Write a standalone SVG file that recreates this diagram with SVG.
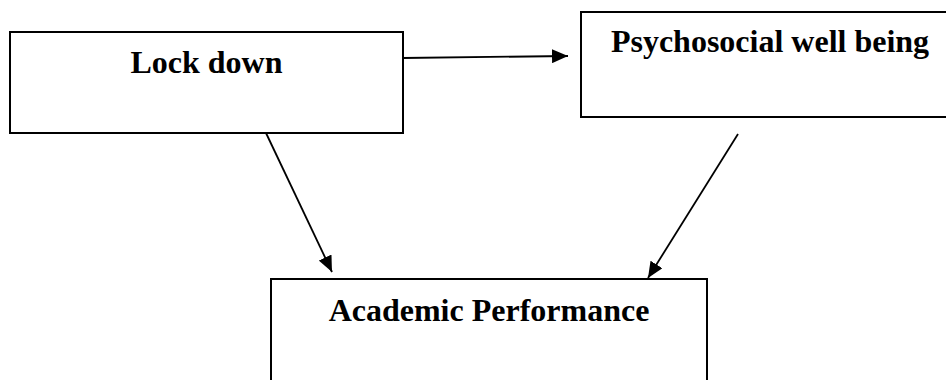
<svg xmlns="http://www.w3.org/2000/svg" width="946" height="380" viewBox="0 0 946 380">
  <style>
    .box { fill: #ffffff; stroke: #000000; stroke-width: 2; }
    .label { font-family: "Liberation Serif", "Times New Roman", serif; font-weight: bold; font-size: 32px; fill: #000000; text-anchor: middle; }
    .conn { stroke: #000000; stroke-width: 1.8; fill: none; marker-end: url(#arrow); }
  </style>
  <defs>
    <marker id="arrow" markerUnits="userSpaceOnUse" markerWidth="16" markerHeight="14" viewBox="0 0 16 14" refX="16" refY="7" orient="auto">
      <path d="M0,0 L16,7 L0,14 z" fill="#000000"/>
    </marker>
  </defs>
  <rect width="946" height="380" fill="#ffffff"/>
  <g id="lockdown">
    <rect class="box" x="10" y="32" width="393" height="101"/>
    <text class="label" x="206.5" y="73">Lock down</text>
  </g>
  <g id="psychosocial">
    <rect class="box" x="581" y="12" width="380" height="105"/>
    <text class="label" x="770" y="52">Psychosocial well being</text>
  </g>
  <g id="academic">
    <rect class="box" x="271" y="279" width="436" height="120"/>
    <text class="label" x="489" y="321">Academic Performance</text>
  </g>
  <g id="connectors">
    <line class="conn" x1="403" y1="58" x2="568" y2="56"/>
    <line class="conn" x1="266" y1="133" x2="332" y2="272"/>
    <line class="conn" x1="738" y1="134" x2="648" y2="278"/>
  </g>
</svg>
